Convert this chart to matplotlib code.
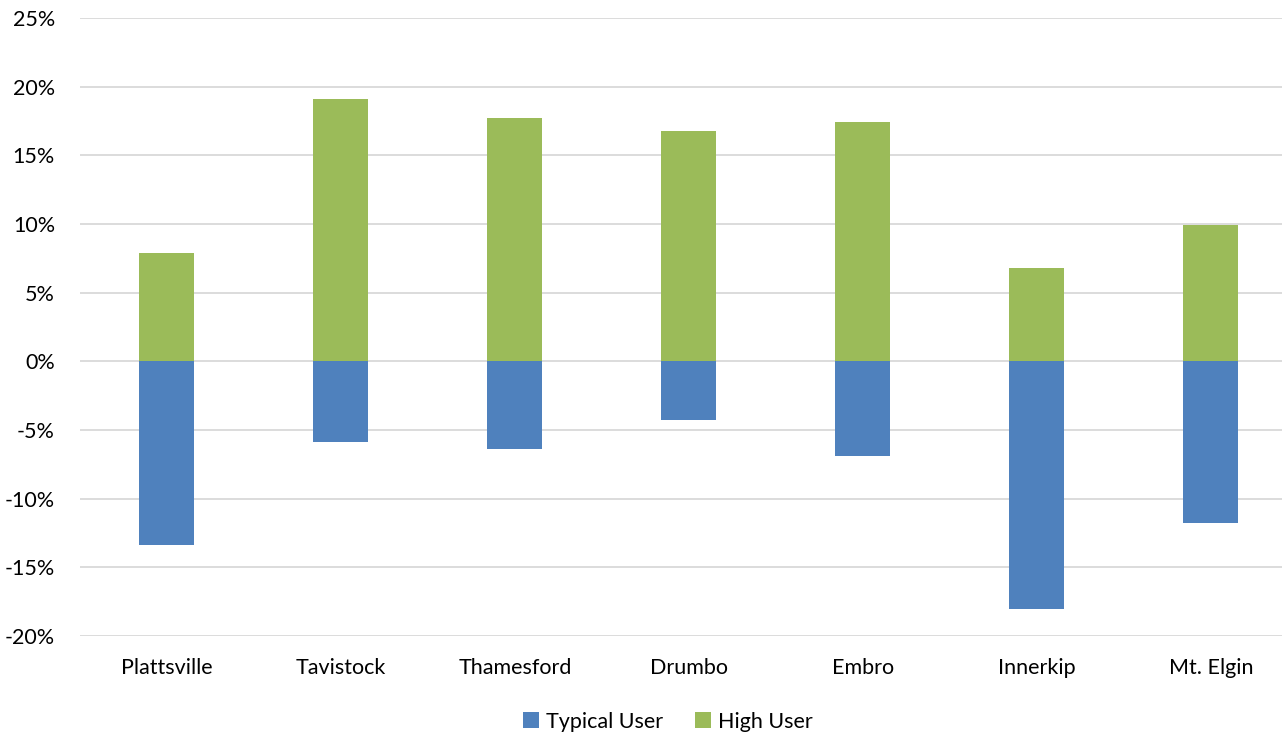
import numpy as np
import matplotlib.pyplot as plt
from matplotlib.ticker import FuncFormatter

plt.rcParams['font.family'] = ['Lato', 'DejaVu Sans']

towns = ['Plattsville', 'Tavistock', 'Thamesford', 'Drumbo', 'Embro', 'Innerkip', 'Mt. Elgin']
typical_user = [-13.4, -5.9, -6.4, -4.3, -6.9, -18.0, -11.8]
high_user = [7.9, 19.1, 17.7, 16.8, 17.4, 6.8, 9.9]

fig = plt.figure(figsize=(12.82, 7.32), dpi=100)
# plot area runs a little past the right edge, gridlines get clipped there
ax = fig.add_axes([0.0624, 0.1311, 0.950, 0.8443])

x = np.arange(len(towns))
w = 0.316
ax.bar(x, typical_user, width=w, color='#4F81BD', label='Typical User', zorder=3)
ax.bar(x, high_user, width=w, color='#9BBB59', label='High User', zorder=3)

ax.set_ylim(-20, 25)
ax.set_yticks(np.arange(-20, 26, 5))
ax.yaxis.set_major_formatter(FuncFormatter(lambda v, p: '%d%%' % v))
ax.set_xlim(-0.5, len(towns) - 0.5)
ax.set_xticks(x)
ax.set_xticklabels(towns)
ax.grid(axis='y', color='#D9D9D9', linewidth=1.3, zorder=0)
for s in ax.spines.values():
    s.set_visible(False)
ax.tick_params(length=0, labelsize=15.5, colors='black')
ax.tick_params(axis='x', pad=16)
ax.tick_params(axis='y', pad=18)

fig.legend(loc='center', bbox_to_anchor=(0.521, 0.014),
           ncol=2, frameon=False, fontsize=15.5, handlelength=0.75, handleheight=0.75,
           handletextpad=0.3, columnspacing=1.5)

fig.savefig('out.png', dpi=100)
